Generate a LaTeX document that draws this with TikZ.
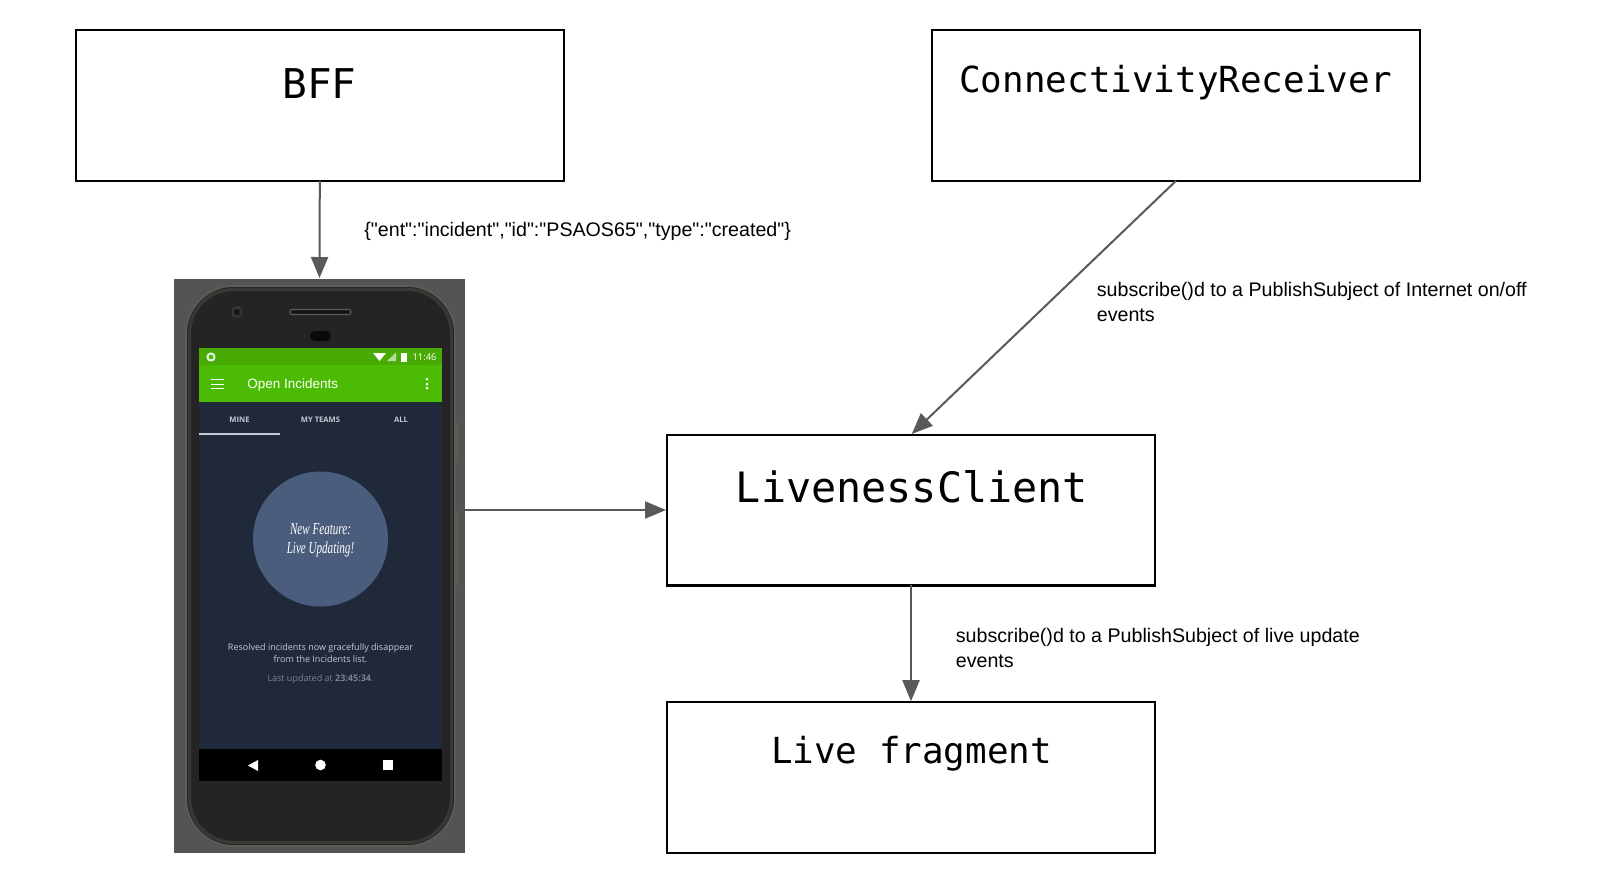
\documentclass[tikz,border=0pt]{standalone}
\usepackage{fontspec}
\setmainfont{Liberation Sans}
\setmonofont{DejaVu Sans Mono}
\newfontfamily\labelfont{Liberation Sans}
\newfontfamily\phonefont{Open Sans}
\newfontfamily\handfont{Liberation Serif}
\usetikzlibrary{arrows.meta,calc}
\definecolor{conn}{HTML}{595959}
\definecolor{phonebg}{HTML}{545454}
\definecolor{phonebody}{HTML}{252323}
\definecolor{phoneedge}{HTML}{5F5B55}
\definecolor{phonerim}{HTML}{3A3835}
\definecolor{screenbg}{HTML}{20293A}
\definecolor{barmain}{HTML}{4BBB03}
\definecolor{barstatus}{HTML}{48AB04}
\definecolor{bubble}{HTML}{4B5D7C}
\definecolor{tabtext}{HTML}{C5CAD3}
\definecolor{mutedtext}{HTML}{7B8290}
\tikzset{
  px/.style={x=0.5pt,y=-0.5pt},
  box/.style={draw=black,line width=1.2pt,fill=white,minimum width=244pt,minimum height=75.3pt,inner sep=0pt,outer sep=0pt},
  boxtitle/.style={font=\ttfamily\fontsize{#1}{#1}\selectfont,inner sep=0pt,anchor=center},
  link/.style={draw=conn,line width=1pt,-{Triangle[length=10.5pt,width=8.5pt]},shorten >=0.5pt},
  edgelabel/.style={font=\labelfont\fontsize{9.82}{12.5}\selectfont,align=left,anchor=west,inner sep=0pt},
  tabfont/.style={font=\phonefont\bfseries\fontsize{3.8}{4}\selectfont,text=tabtext,inner sep=0pt},
  smalltext/.style={font=\phonefont\fontsize{4.5}{4.5}\selectfont,text=tabtext,inner sep=0pt}
}
\begin{document}
\begin{tikzpicture}[px]
\useasboundingbox (0,0) rectangle (1600,890);
\fill[white] (0,0) rectangle (1600,890);
% boxes
\node[box] (bff) at (319.8,105.5) {};
\node[box] (conn) at (1176,105.5) {};
\node[box] (live) at (911,510) {};
\node[box] (frag) at (911,777.5) {};
\node[boxtitle=20.5] (bfft) at (319.5,84) {BFF};
\node[boxtitle=17.95] (connt) at (1175.5,83) {ConnectivityReceiver};
\node[boxtitle=20.9] (livet) at (912,487) {LivenessClient};
\node[boxtitle=17.95] (fragt) at (911.5,753.5) {Live fragment};
% phone
\node[fill=phonebg,minimum width=145.5pt,minimum height=287pt,inner sep=0pt,outer sep=0pt] (phone) at (319.5,566) {};
\fill[phonebody,draw=phoneedge,line width=0.8pt,rounded corners=24pt] (186,286) rectangle (455,846);
\draw[phonerim,line width=1.6pt,rounded corners=22pt] (189.5,289.5) rectangle (451.5,842.5);
\fill[phoneedge] (455,423) rectangle (458,462);
\fill[phoneedge] (455,510) rectangle (458,585);
\fill[phonebody,draw=black!30!phoneedge,line width=0.6pt] (237,312) circle (5);
\fill[black!60!phonebody] (237,312) circle (2);
\fill[black!50!phonebody,draw=phoneedge,line width=0.6pt,rounded corners=1.2pt] (290,309.5) rectangle (351,314.5);
\fill[black!70!phonebody,rounded corners=2.5pt] (310,331) rectangle (331,341);
% screen
\fill[screenbg] (199,348) rectangle (442,749);
\fill[barstatus] (199,348) rectangle (442,365);
\fill[barmain] (199,365) rectangle (442,402);
\fill[black] (199,749) rectangle (442,781);
% status bar
\draw[white!85!barstatus,line width=1pt,fill=barmain] (211,357) circle (3.6);
\fill[white] (373,353) -- (386,353) -- (379.5,361) -- cycle;
\fill[white!60!barstatus] (387,361) -- (396,361) -- (396,352.5) -- cycle;
\fill[white] (401,353) rectangle (407,361.5);
\node[font=\phonefont\fontsize{4.7}{5}\selectfont,text=white,inner sep=0pt] (clock) at (424.5,357) {11:46};
% toolbar
\foreach \yy in {379,384,388}{
  \draw[white,line width=0.45pt] (211,\yy) -- (224,\yy);
  \fill[white] (427,\yy) circle (1.5);
}
\node[font=\labelfont\fontsize{6.75}{7}\selectfont,text=white,inner sep=0pt,anchor=west] (title) at (247,385) {Open Incidents};
% tabs
\node[tabfont] (tabmine) at (239.5,420) {MINE};
\node[tabfont] (tabteams) at (320.5,420) {MY TEAMS};
\node[tabfont] (taball) at (401,420) {ALL};
\fill[tabtext] (199,433) rectangle (280,435);
% bubble
\node[circle,fill=bubble,minimum size=67.5pt,inner sep=0pt] (bubblec) at (320.5,539) {};
\node[font=\handfont\itshape\fontsize{8.4}{8.4}\selectfont,text=white,inner sep=0pt,xscale=0.66] (bub1) at (320.5,529) {New Feature:};
\node[font=\handfont\itshape\fontsize{8.4}{8.4}\selectfont,text=white,inner sep=0pt,xscale=0.66] (bub2) at (320.5,549.5) {Live Updating!};
% phone texts
\node[smalltext] (res1) at (320.5,648.5) {Resolved incidents now gracefully disappear};
\node[smalltext] (res2) at (320.5,659.5) {from the Incidents list.};
\node[smalltext,text=mutedtext] (res3) at (320.5,679) {Last updated at \textbf{23:45:34}.};
% nav
\fill[white] (248,765.5) -- (258,760) -- (258,771) -- cycle;
\fill[white] (320.5,765) circle (5.3);
\fill[white] (383,760) rectangle (393,770);
% connectors
\draw[link] (bff.south) -- (phone.north);
\draw[link] (conn.south) -- (live.north);
\draw[link] (phone.east |- live.west) -- (live.west);
\draw[link] (live.south) -- (frag.north);
% labels
\node[edgelabel] (l1) at (364,231) {\{"ent":"incident","id":"PSAOS65","type":"created"\}};
\node[edgelabel] (l2) at (1096.5,301.5) {subscribe()d to a PublishSubject of Internet on/off\\events};
\node[edgelabel] (l3) at (955.5,647.5) {subscribe()d to a PublishSubject of live update\\events};
\end{tikzpicture}
\end{document}
